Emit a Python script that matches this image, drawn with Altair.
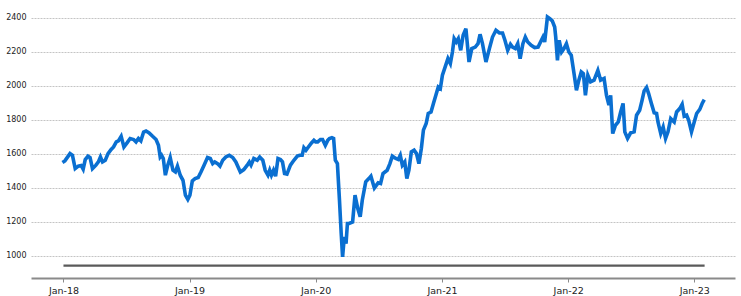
import altair as alt
import pandas as pd

dates = [
    "2017-12-29", "2018-01-05", "2018-01-20", "2018-01-27", "2018-02-04", "2018-02-13", "2018-02-21", "2018-02-27",
    "2018-03-05", "2018-03-13", "2018-03-19", "2018-03-26", "2018-04-05", "2018-04-12", "2018-04-18", "2018-04-24",
    "2018-05-02", "2018-05-10", "2018-05-19", "2018-05-26", "2018-06-03", "2018-06-09", "2018-06-17", "2018-06-25",
    "2018-07-04", "2018-07-13", "2018-07-23", "2018-07-30", "2018-08-06", "2018-08-13", "2018-08-21", "2018-08-28",
    "2018-09-06", "2018-09-16", "2018-09-26", "2018-10-03", "2018-10-08", "2018-10-12", "2018-10-17", "2018-10-23",
    "2018-10-30", "2018-11-06", "2018-11-14", "2018-11-21", "2018-11-27", "2018-12-05", "2018-12-13", "2018-12-20",
    "2018-12-27", "2019-01-02", "2019-01-09", "2019-01-17", "2019-01-26", "2019-02-03", "2019-02-12", "2019-02-22",
    "2019-03-02", "2019-03-09", "2019-03-15", "2019-03-23", "2019-03-30", "2019-04-07", "2019-04-16", "2019-04-26",
    "2019-05-06", "2019-05-15", "2019-05-28", "2019-06-07", "2019-06-17", "2019-06-23", "2019-06-28", "2019-07-06",
    "2019-07-16", "2019-07-23", "2019-08-01", "2019-08-08", "2019-08-16", "2019-08-21", "2019-08-26", "2019-09-01",
    "2019-09-07", "2019-09-14", "2019-09-21", "2019-09-27", "2019-10-03", "2019-10-10", "2019-10-20", "2019-10-30",
    "2019-11-09", "2019-11-16", "2019-11-23", "2019-11-28", "2019-12-04", "2019-12-11", "2019-12-20", "2019-12-27",
    "2020-01-01", "2020-01-07", "2020-01-15", "2020-01-21", "2020-01-29", "2020-02-05", "2020-02-10", "2020-02-17",
    "2020-02-22", "2020-02-27", "2020-03-04", "2020-03-10", "2020-03-15", "2020-03-19", "2020-03-24", "2020-03-29",
    "2020-04-02", "2020-04-07", "2020-04-17", "2020-04-24", "2020-05-02", "2020-05-09", "2020-05-15", "2020-05-25",
    "2020-06-03", "2020-06-09", "2020-06-19", "2020-06-30", "2020-07-07", "2020-07-14", "2020-07-26", "2020-08-03",
    "2020-08-10", "2020-08-20", "2020-08-27", "2020-09-02", "2020-09-08", "2020-09-15", "2020-09-21", "2020-09-27",
    "2020-10-04", "2020-10-12", "2020-10-19", "2020-10-26", "2020-11-02", "2020-11-08", "2020-11-16", "2020-11-22",
    "2020-11-30", "2020-12-07", "2020-12-14", "2020-12-21", "2020-12-27", "2021-01-02", "2021-01-10", "2021-01-18",
    "2021-01-25", "2021-01-31", "2021-02-05", "2021-02-11", "2021-02-17", "2021-02-24", "2021-03-03", "2021-03-11",
    "2021-03-20", "2021-03-28", "2021-04-07", "2021-04-15", "2021-04-21", "2021-04-28", "2021-05-08", "2021-05-18",
    "2021-05-27", "2021-06-06", "2021-06-16", "2021-06-25", "2021-07-02", "2021-07-10", "2021-07-18", "2021-07-24",
    "2021-08-01", "2021-08-08", "2021-08-15", "2021-08-23", "2021-08-30", "2021-09-06", "2021-09-16", "2021-09-26",
    "2021-10-06", "2021-10-13", "2021-10-20", "2021-10-25", "2021-11-02", "2021-11-09", "2021-11-16", "2021-11-23",
    "2021-11-26", "2021-12-01", "2021-12-06", "2021-12-13", "2021-12-20", "2021-12-27", "2022-01-03", "2022-01-10",
    "2022-01-18", "2022-01-25", "2022-02-01", "2022-02-08", "2022-02-14", "2022-02-20", "2022-02-27", "2022-03-07",
    "2022-03-17", "2022-03-28", "2022-04-05", "2022-04-15", "2022-04-22", "2022-04-29", "2022-05-04", "2022-05-10",
    "2022-05-18", "2022-05-26", "2022-06-02", "2022-06-09", "2022-06-14", "2022-06-22", "2022-07-01", "2022-07-11",
    "2022-07-18", "2022-07-27", "2022-08-03", "2022-08-09", "2022-08-16", "2022-08-22", "2022-08-30", "2022-09-07",
    "2022-09-14", "2022-09-18", "2022-09-26", "2022-10-03", "2022-10-10", "2022-10-17", "2022-10-25", "2022-11-04",
    "2022-11-11", "2022-11-20", "2022-11-27", "2022-12-03", "2022-12-10", "2022-12-16", "2022-12-24", "2023-01-01",
    "2023-01-08", "2023-01-17", "2023-01-24", "2023-01-30",
]

values = [
    1550, 1559, 1602, 1592, 1514, 1528, 1532, 1510,
    1567, 1587, 1579, 1514, 1534, 1553, 1582, 1553,
    1563, 1602, 1626, 1641, 1671, 1677, 1704, 1641,
    1665, 1691, 1685, 1671, 1691, 1677, 1729, 1735,
    1724, 1704, 1685, 1651, 1582, 1592, 1573, 1475,
    1534, 1579, 1504, 1494, 1528, 1475, 1445, 1357,
    1332, 1357, 1441, 1455, 1461, 1494, 1534, 1579,
    1573, 1543, 1553, 1543, 1528, 1563, 1582, 1592,
    1579, 1553, 1494, 1508, 1534, 1553, 1534, 1573,
    1563, 1582, 1563, 1504, 1475, 1504, 1475, 1504,
    1469, 1573, 1567, 1553, 1485, 1481, 1534, 1563,
    1587, 1592, 1592, 1637, 1622, 1641, 1665, 1680,
    1671, 1671, 1685, 1685, 1651, 1680, 1691, 1696,
    1691, 1563, 1543, 1328, 1132, 994, 1112, 1073,
    1191, 1191, 1200, 1357, 1279, 1230, 1328, 1436,
    1455, 1469, 1400, 1430, 1426, 1485, 1504, 1543,
    1587, 1573, 1567, 1592, 1534, 1553, 1455, 1504,
    1612, 1622, 1602, 1543, 1632, 1740, 1779, 1838,
    1847, 1897, 1945, 1994, 1985, 2063, 2112, 2161,
    2132, 2200, 2279, 2259, 2279, 2210, 2298, 2337,
    2141, 2220, 2229, 2249, 2304, 2249, 2141, 2220,
    2288, 2328, 2312, 2312, 2269, 2210, 2245, 2229,
    2220, 2249, 2161, 2249, 2288, 2259, 2239, 2226,
    2229, 2259, 2288, 2259, 2406, 2396, 2383, 2347,
    2288, 2151, 2269, 2200, 2220, 2249, 2200, 2181,
    2073, 1975, 2034, 2083, 2073, 1945, 2063, 2024,
    2034, 2092, 2034, 2044, 1945, 1887, 1945, 1720,
    1769, 1788, 1847, 1897, 1730, 1691, 1724, 1730,
    1828, 1857, 1916, 1971, 1991, 1955, 1897, 1842,
    1838, 1788, 1720, 1759, 1691, 1730, 1808, 1788,
    1847, 1867, 1892, 1822, 1828, 1798, 1730, 1788,
    1838, 1862, 1897, 1920,
]

baseline_dates = ["2018-01-01", "2023-01-31"]
baseline_values = [943, 943]

y_ticks = [1000, 1200, 1400, 1600, 1800, 2000, 2200, 2400]
x_tick_years = [2018, 2019, 2020, 2021, 2022, 2023]

df = pd.DataFrame({"date": dates, "value": values})
base_df = pd.DataFrame({"date": baseline_dates, "value": baseline_values})

x_scale = alt.Scale(domain=[alt.DateTime(year=2017, month=9, date=29),
                            alt.DateTime(year=2023, month=4, date=29)])
y_scale = alt.Scale(domain=[870, 2500], nice=False, zero=False)

x_axis = alt.Axis(
    values=[alt.DateTime(year=y, month=1, date=1) for y in x_tick_years],
    format="%b-%y", title=None, grid=False, labelOverlap=False, labelFlush=False,
    domainColor="#8a8a8a", domainWidth=2, tickColor="#8a8a8a", tickSize=4,
    labelFontSize=9.5, labelColor="#222", labelFont="DejaVu Sans", labelPadding=3,
)
y_axis = alt.Axis(
    values=y_ticks, format="d", title=None, domain=False, ticks=False,
    labelOverlap=False, labelFlush=False,
    grid=True, gridColor="#c4c4c4", gridDash=[2, 1], gridWidth=1,
    labelFontSize=8, labelColor="#222", labelFont="DejaVu Sans", labelPadding=5,
)

line = alt.Chart(df).mark_line(color="#0A6FD1", strokeWidth=3.6).encode(
    x=alt.X("date:T", scale=x_scale, axis=x_axis),
    y=alt.Y("value:Q", scale=y_scale, axis=y_axis),
)

baseline = alt.Chart(base_df).mark_line(color="#5a5a5a", strokeWidth=2.2).encode(
    x=alt.X("date:T", scale=x_scale, axis=x_axis),
    y=alt.Y("value:Q", scale=y_scale, axis=y_axis),
)

chart = alt.layer(baseline, line).properties(
    width=704, height=277,
    padding={"left": 31, "top": 1, "right": 6, "bottom": 18},
    autosize=alt.AutoSizeParams(type="none"),
).configure_view(stroke=None)

chart.save("out.html", embed_options={"renderer": "svg", "actions": False})
